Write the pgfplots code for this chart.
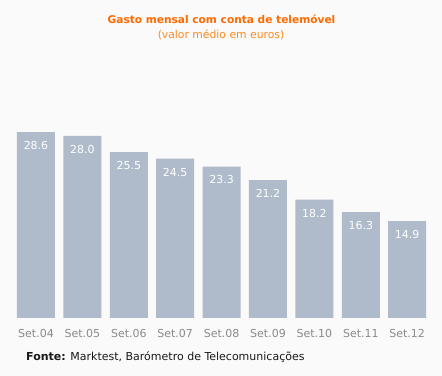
\documentclass[border=0pt]{standalone}
\usepackage{pgfplots}
\pgfplotsset{compat=1.18}
\usepackage{fontspec}
\setmainfont{DejaVu Sans}
\definecolor{bg}{HTML}{FAFAFA}
\definecolor{barc}{HTML}{AFBBCB}
\definecolor{tickc}{HTML}{8A8A8A}
\definecolor{orangeA}{HTML}{FF6A00}
\definecolor{orangeB}{HTML}{FF8A1E}
\begin{document}
\begin{tikzpicture}
\fill[bg] (0,0) rectangle (442bp,376bp);
\begin{axis}[
  at={(12.8bp,58bp)}, anchor=south west,
  scale only axis, width=417.6bp, height=195bp,
  xmin=-0.5, xmax=8.5, ymin=0, ymax=30,
  axis line style={draw=none},
  ytick=\empty,
  xtick={0,...,8},
  xticklabels={Set.04,Set.05,Set.06,Set.07,Set.08,Set.09,Set.10,Set.11,Set.12},
  major tick length=0pt,
  xticklabel style={font=\fontsize{11bp}{13bp}\selectfont, text=tickc, inner sep=0pt, anchor=north, yshift=-11bp},
  clip=false,
]
\addplot[ybar, bar width=38bp, fill=barc, draw=none,
  nodes near coords, point meta=explicit symbolic,
  nodes near coords style={font=\fontsize{11bp}{13bp}\selectfont, text=white, anchor=north, inner sep=0pt, yshift=-9bp}]
  coordinates {(0,28.6)[28.6] (1,28.0)[28.0] (2,25.5)[25.5] (3,24.5)[24.5] (4,23.3)[23.3] (5,21.2)[21.2] (6,18.2)[18.2] (7,16.3)[16.3] (8,14.9)[14.9]};
\end{axis}
\node[font=\fontsize{10.6bp}{12bp}\selectfont\bfseries, text=orangeA, inner sep=0pt] at (221.5bp,357bp) {Gasto mensal com conta de telemóvel};
\node[font=\fontsize{10.8bp}{12bp}\selectfont, text=orangeB, inner sep=0pt] at (221bp,341bp) {(valor médio em euros)};
\node[font=\fontsize{11bp}{13bp}\selectfont, text=black!90, inner sep=0pt, anchor=west] at (26bp,19bp) {\textbf{Fonte:} Marktest, Barómetro de Telecomunicações};
\end{tikzpicture}
\end{document}
